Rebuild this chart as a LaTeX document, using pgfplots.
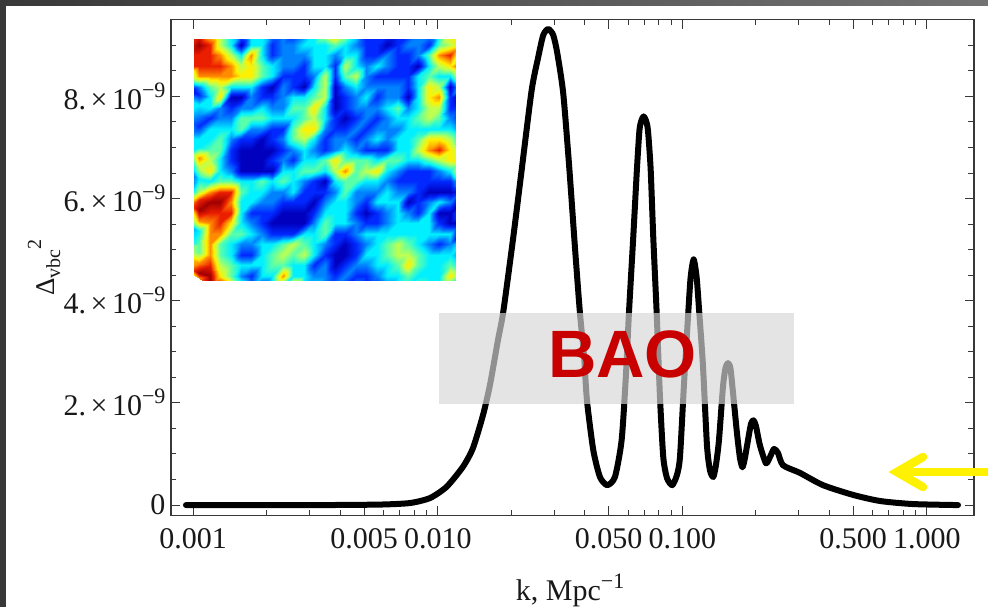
\documentclass[border=0pt]{standalone}
\usepackage{pgfplots}
\usepackage{fontspec}
\setmainfont{Liberation Serif}
\newfontfamily\arialfont{Liberation Sans}
\pgfplotsset{compat=1.18}
\definecolor{axisgray}{HTML}{383838}
\newcommand{\sci}[1]{#1.\hspace{4.5pt}×\hspace{4.5pt}10\raisebox{12pt}{\fontsize{22}{22}\selectfont −9}}
\begin{document}
\begin{tikzpicture}[x=1pt,y=1pt]
\path[use as bounding box] (0,0) rectangle (988,607);
\fill[white] (0,0) rectangle (988,607);
\fill[left color=black!78,right color=black!55] (0,601) rectangle (988,607);
\fill[black!78] (0,0) rectangle (6,607);
\begin{axis}[
  at={(171pt,91.7pt)},anchor=south west,
  scale only axis,width=803pt,height=496pt,
  xmode=log,
  xmin=0.000811,xmax=1.56,
  ymin=-0.2e-9,ymax=9.51e-9,
  scaled y ticks=false,
  axis line style={axisgray,line width=1.3pt},
  tick align=inside,tick pos=both,
  major tick length=9.5pt,minor tick length=5.5pt,
  every tick/.style={axisgray,line width=1pt},
  xtick={0.001,0.005,0.01,0.05,0.1,0.5,1},
  xticklabels={0.001,0.005,0.010,0.050,0.100,0.500,1.000},
  minor xtick={0.002,0.003,0.004,0.006,0.007,0.008,0.009,0.02,0.03,0.04,0.06,0.07,0.08,0.09,0.2,0.3,0.4,0.6,0.7,0.8,0.9},
  ytick={0,2e-9,4e-9,6e-9,8e-9},
  yticklabels={0,\sci{2},\sci{4},\sci{6},\sci{8}},
  minor ytick={0.5e-9,1e-9,1.5e-9,2.5e-9,3e-9,3.5e-9,4.5e-9,5e-9,5.5e-9,6.5e-9,7e-9,7.5e-9,8.5e-9,9e-9,9.5e-9},
  ticklabel style={font=\fontsize{30}{32}\selectfont,text=black!90},
  xticklabel style={yshift=-10pt},
  yticklabel style={xshift=-2pt},
  xlabel={k, Mpc\raisebox{12pt}{\fontsize{22}{22}\selectfont −1}},
  xlabel style={font=\fontsize{30}{32}\selectfont,text=black!90,at={(axis description cs:0.497,0)},anchor=north,yshift=-55pt},
  ylabel={},
  clip=false,
]
\addplot[black,line width=6pt,smooth,tension=0.4,line cap=round,line join=round] table[row sep=\\]{
k v\\
0.000934 0\\ 0.001706 0\\ 0.003298 0\\ 0.005802 0.01e-9\\ 0.007696 0.04e-9\\ 0.009292 0.137e-9\\
0.01087 0.358e-9\\ 0.01268 0.75e-9\\ 0.01393 1.115e-9\\ 0.01531 1.76e-9\\ 0.01635 2.35e-9\\ 0.01763 3.23e-9\\
0.01853 3.78e-9\\ 0.02036 5.24e-9\\ 0.02204 6.56e-9\\ 0.02421 8.12e-9\\ 0.02576 8.77e-9\\ 0.02700 9.20e-9\\
0.02831 9.32e-9\\ 0.02967 9.20e-9\\ 0.03082 8.85e-9\\ 0.03260 8.06e-9\\ 0.03450 6.61e-9\\ 0.03640 5.05e-9\\
0.03816 3.76e-9\\ 0.03963 2.94e-9\\ 0.04076 2.05e-9\\ 0.04325 1.08e-9\\ 0.04606 0.55e-9\\ 0.04934 0.39e-9\\
0.05305 0.55e-9\\ 0.05650 1.27e-9\\ 0.05883 2.54e-9\\ 0.06053 3.76e-9\\ 0.06303 5.24e-9\\ 0.06528 6.59e-9\\
0.06683 7.34e-9\\ 0.06809 7.53e-9\\ 0.06951 7.61e-9\\ 0.07103 7.53e-9\\ 0.07238 7.34e-9\\ 0.07424 6.59e-9\\
0.07612 5.24e-9\\ 0.07860 3.76e-9\\ 0.08107 2.11e-9\\ 0.08362 0.94e-9\\ 0.08659 0.53e-9\\ 0.09101 0.39e-9\\
0.09513 0.59e-9\\ 0.09787 0.94e-9\\ 0.1016 2.35e-9\\ 0.1058 3.76e-9\\ 0.1082 4.46e-9\\ 0.1113 4.81e-9\\
0.1145 4.46e-9\\ 0.1174 3.76e-9\\ 0.1215 2.74e-9\\ 0.1262 1.17e-9\\ 0.1298 0.68e-9\\ 0.1339 0.55e-9\\
0.1373 0.78e-9\\ 0.1413 1.27e-9\\ 0.1467 2.31e-9\\ 0.1502 2.68e-9\\ 0.1538 2.78e-9\\ 0.1574 2.68e-9\\
0.1612 2.21e-9\\ 0.1674 1.41e-9\\ 0.1722 0.92e-9\\ 0.1763 0.74e-9\\ 0.1804 0.92e-9\\ 0.1857 1.27e-9\\
0.1910 1.59e-9\\ 0.1955 1.66e-9\\ 0.2001 1.55e-9\\ 0.2078 1.17e-9\\ 0.2199 0.82e-9\\ 0.2284 0.94e-9\\
0.2372 1.10e-9\\ 0.2463 1.02e-9\\ 0.2582 0.78e-9\\ 0.3029 0.63e-9\\ 0.3764 0.39e-9\\
0.4990 0.20e-9\\ 0.6436 0.08e-9\\ 0.8784 0.02e-9\\ 1.342 0\\
};
\end{axis}
\node[rotate=90,text=black!90,font=\fontsize{27}{28}\selectfont] at (44,339.5) {Δ\raisebox{-6pt}{\fontsize{20}{20}\selectfont vbc}\raisebox{13pt}{\fontsize{20}{20}\selectfont 2}};
\fill[fill=black!15.5,opacity=0.67] (439,203) rectangle (794,294);
\node[font=\arialfont\bfseries\fontsize{67}{70}\selectfont,text={rgb,255:red,200;green,0;blue,0}] at (622.5,253) {BAO};
\pgfplotsset{colormap={hmap}{rgb255(0cm)=(0,0,190) rgb255(1cm)=(0,40,255) rgb255(2cm)=(0,130,255) rgb255(3cm)=(0,240,255) rgb255(4cm)=(90,255,170) rgb255(5cm)=(190,255,80) rgb255(6cm)=(255,240,0) rgb255(7cm)=(255,140,0) rgb255(8cm)=(235,30,0) rgb255(9cm)=(160,0,0)}}
\begin{axis}[
  at={(194pt,326pt)},anchor=south west,
  scale only axis,width=261pt,height=241.5pt,
  axis lines=none,
  xmin=0,xmax=25,ymin=0,ymax=23,y dir=reverse,
  point meta min=0,point meta max=9,
  colormap name=hmap,
]
\addplot[matrix plot*,shader=interp,mesh/cols=26,mesh/rows=24,point meta=explicit]
table[row sep=\\,header=false,x expr={mod(\coordindex,26)},y expr={floor(\coordindex/26)},meta index=0]{
8\\8\\6\\5\\3\\2\\3\\3\\2\\2\\1\\2\\3\\5\\7\\5\\3\\1\\1\\1\\1\\1\\2\\2\\3\\6\\
8\\9\\8\\5\\3\\0\\3\\3\\1\\2\\2\\3\\3\\3\\4\\3\\2\\1\\1\\0\\1\\2\\2\\1\\4\\5\\
8\\8\\8\\7\\5\\3\\7\\3\\1\\2\\2\\2\\3\\3\\2\\3\\3\\1\\1\\2\\1\\1\\2\\4\\7\\8\\
8\\8\\8\\8\\7\\5\\6\\4\\3\\2\\2\\1\\3\\3\\1\\5\\3\\2\\3\\2\\1\\1\\0\\3\\5\\6\\
4\\7\\7\\7\\7\\6\\6\\4\\3\\1\\1\\1\\2\\5\\1\\4\\5\\2\\1\\1\\1\\1\\3\\4\\3\\3\\
1\\2\\4\\5\\3\\3\\3\\1\\0\\2\\1\\0\\3\\5\\0\\2\\3\\2\\2\\2\\2\\1\\3\\6\\5\\0\\
0\\1\\3\\6\\0\\0\\2\\1\\1\\2\\3\\3\\4\\5\\0\\1\\2\\3\\1\\2\\2\\0\\3\\6\\7\\1\\
3\\3\\3\\2\\1\\2\\2\\3\\2\\2\\4\\4\\6\\3\\0\\1\\2\\2\\2\\3\\4\\2\\3\\5\\5\\1\\
3\\2\\1\\2\\2\\4\\4\\4\\3\\3\\3\\4\\5\\3\\1\\0\\1\\2\\1\\2\\3\\3\\4\\5\\4\\2\\
2\\1\\3\\3\\3\\4\\2\\2\\1\\1\\4\\6\\6\\2\\1\\1\\2\\1\\2\\2\\2\\3\\3\\3\\3\\3\\
3\\3\\3\\4\\2\\1\\1\\0\\1\\2\\4\\5\\3\\1\\2\\2\\1\\2\\3\\2\\3\\3\\4\\6\\6\\5\\
3\\3\\4\\4\\1\\0\\0\\0\\0\\1\\2\\3\\2\\1\\2\\3\\2\\1\\1\\1\\3\\3\\5\\7\\8\\6\\
3\\7\\5\\3\\1\\0\\0\\0\\1\\2\\1\\3\\3\\4\\6\\4\\4\\4\\3\\4\\4\\3\\3\\4\\5\\6\\
2\\5\\6\\3\\2\\0\\0\\0\\0\\3\\3\\4\\4\\3\\5\\7\\4\\5\\6\\3\\2\\1\\1\\1\\2\\3\\
1\\3\\3\\4\\4\\3\\3\\4\\3\\4\\3\\2\\1\\0\\3\\4\\4\\3\\3\\2\\1\\1\\1\\1\\1\\1\\
2\\5\\7\\8\\8\\4\\3\\3\\2\\2\\3\\1\\1\\1\\2\\4\\2\\2\\2\\3\\2\\2\\1\\0\\0\\0\\
3\\8\\9\\9\\7\\3\\3\\2\\2\\1\\1\\1\\0\\2\\3\\3\\2\\1\\3\\3\\3\\0\\1\\2\\3\\2\\
7\\9\\8\\8\\8\\3\\1\\1\\1\\0\\0\\0\\1\\3\\3\\3\\1\\0\\1\\2\\3\\2\\1\\3\\0\\0\\
4\\7\\7\\8\\6\\3\\2\\1\\0\\0\\0\\0\\2\\4\\3\\3\\2\\1\\1\\2\\3\\3\\3\\3\\1\\0\\
2\\3\\7\\7\\4\\4\\3\\2\\1\\1\\1\\3\\3\\4\\1\\1\\2\\3\\3\\3\\3\\3\\3\\3\\3\\3\\
3\\4\\7\\4\\3\\2\\2\\3\\3\\4\\5\\4\\3\\2\\1\\0\\1\\2\\3\\4\\5\\4\\3\\2\\1\\2\\
5\\4\\7\\4\\3\\1\\1\\3\\4\\5\\4\\5\\3\\1\\0\\0\\1\\3\\3\\4\\5\\5\\4\\3\\3\\3\\
6\\7\\8\\5\\4\\3\\3\\3\\4\\4\\3\\3\\1\\2\\0\\1\\2\\2\\3\\3\\4\\6\\4\\3\\3\\4\\
7\\9\\9\\6\\4\\2\\1\\3\\3\\7\\3\\3\\2\\2\\1\\2\\1\\1\\2\\3\\3\\4\\3\\3\\3\\6\\
};
\end{axis}
\draw[yellow,line width=8.5pt,line cap=butt] (988,135) -- (904,135);
\draw[yellow,line width=8.5pt,line cap=round,line join=miter] (923,150) -- (897,135) -- (923,120);
\end{tikzpicture}
\end{document}
